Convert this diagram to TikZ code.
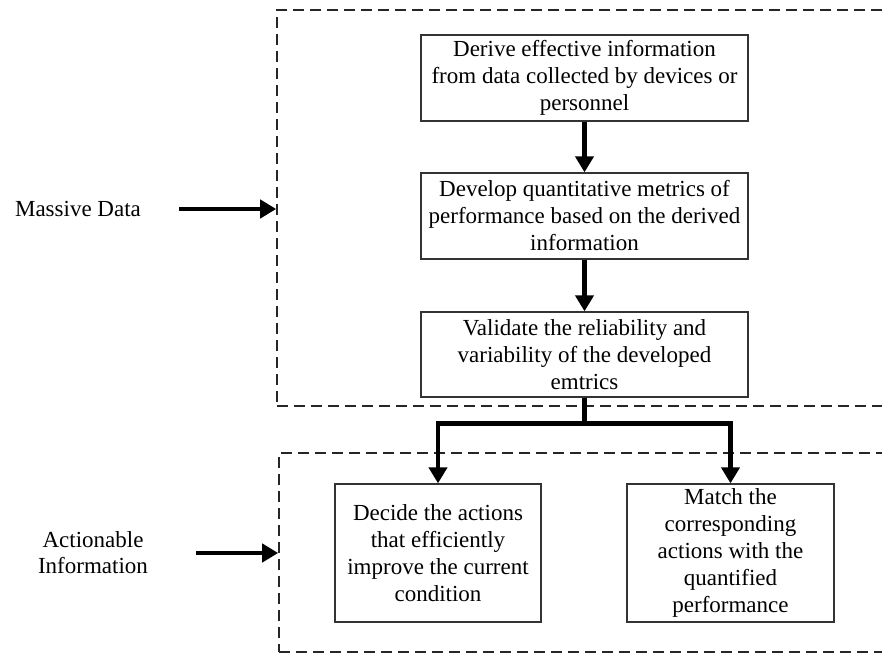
\documentclass[tikz,border=0pt]{standalone}
\usepackage{fontspec}
\setmainfont{Liberation Serif}
\usetikzlibrary{arrows.meta}
\begin{document}
\begin{tikzpicture}[x=1pt,y=-1pt,
  stepbox/.style={draw=black!80, line width=1.3pt, align=center,
    font=\fontsize{23}{27}\selectfont, inner sep=0pt},
  frame/.style={draw=black!85, line width=1.6pt, dash pattern=on 11pt off 6pt, inner sep=0pt},
  flow/.style={line width=4.5pt, -{Triangle[length=16pt,width=18pt]}},
  sidelabel/.style={font=\fontsize{23}{26}\selectfont, align=center, inner sep=0pt}]
\useasboundingbox (0,0) rectangle (882,655);
\clip (0,0) rectangle (882,655);
\fill[white] (0,0) rectangle (882,655);

% dashed groups (right edges run off the page)
\node[frame, minimum width=623pt, minimum height=396pt] (top) at (588.5,208) {};
\node[frame, minimum width=621pt, minimum height=199pt] (bot) at (589.5,552.5) {};

% process steps
\node[stepbox, minimum width=327pt, minimum height=86pt] (b1) at (584.5,78)
  {Derive effective information\\from data collected by devices or\\personnel};
\node[stepbox, minimum width=327pt, minimum height=86pt] (b2) at (584.5,216)
  {Develop quantitative metrics of\\performance based on the derived\\information};
\node[stepbox, minimum width=327pt, minimum height=85pt] (b3) at (584.5,354.5)
  {Validate the reliability and\\variability of the developed\\emtrics};
\node[stepbox, minimum width=206pt, minimum height=138pt] (b4) at (438,553)
  {Decide the actions\\that efficiently\\improve the current\\condition};
\node[stepbox, minimum width=207pt, minimum height=138pt] (b5) at (730.5,553)
  {Match the\\corresponding\\actions with the\\quantified\\performance};

% side labels
\node[sidelabel] (md) at (78,209) {Massive Data};
\node[sidelabel] (ai) at (93,553) {Actionable\\Information};

% connectors
\draw[flow] (b1) -- (b2);
\draw[flow] (b2) -- (b3);
\draw[flow] (b3.south) -- ++(0,26) -| (b4.north);
\draw[flow] (b3.south) -- ++(0,26) -| (b5.north);
\draw[flow, shorten <=38pt] (md.east) -- (md.east -| top.west);
\draw[flow, shorten <=48pt] (ai.east) -- (ai.east -| bot.west);
\end{tikzpicture}
\end{document}
